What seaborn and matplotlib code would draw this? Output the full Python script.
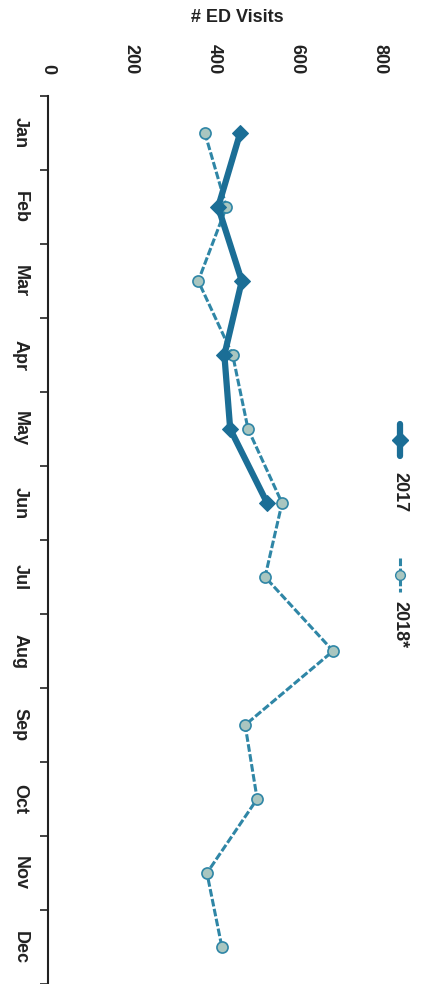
import numpy as np
import pandas as pd
import matplotlib
matplotlib.use("Agg")
import matplotlib.pyplot as plt
from matplotlib.lines import Line2D
import seaborn as sns

months = ["Jan", "Feb", "Mar", "Apr", "May", "Jun", "Jul", "Aug", "Sep", "Oct", "Nov", "Dec"]
visits_2017 = [463, 410, 467, 425, 439, 528]
visits_2018 = [378, 430, 362, 445, 482, 564, 523, 687, 475, 504, 383, 419]
value_ticks = [0, 200, 400, 600, 800]

c17 = "#1b6e96"
c18 = "#2f86a6"

df17 = pd.DataFrame({"month": np.arange(len(visits_2017)), "visits": visits_2017})
df18 = pd.DataFrame({"month": np.arange(len(visits_2018)), "visits": visits_2018})

sns.set_theme(style="white")
plt.rcParams["font.family"] = ["Liberation Sans", "DejaVu Sans"]

fig = plt.figure(figsize=(4.25, 9.84), dpi=100)
ax = fig.add_axes([48 / 425, 0.0, (380 - 48) / 425, 1 - 96 / 984])

# chart is drawn sideways: values run left->right, months top->bottom
sns.lineplot(data=df18, x="visits", y="month", orient="y", ax=ax, color=c18,
             linewidth=2.2, linestyle=(0, (2.5, 0.8)), marker="o", markersize=8,
             markerfacecolor="#a9c6c0", markeredgecolor=c18, markeredgewidth=1.2)
sns.lineplot(data=df17, x="visits", y="month", orient="y", ax=ax, color=c17,
             linewidth=4.5, marker="D", markersize=8,
             markerfacecolor=c17, markeredgecolor=c17)

ax.set_xlim(0, 800)
ax.set_ylim(len(months) - 0.5, -0.5)
ax.xaxis.tick_top()
ax.set_xticks(value_ticks)
ax.set_xticklabels([str(v) for v in value_ticks], rotation=-90, fontsize=13,
                   fontweight="bold", color="#222222")
ax.tick_params(axis="x", length=0, pad=16)
ax.set_yticks(np.arange(len(months)))
ax.set_yticklabels(months, rotation=-90, fontsize=13, fontweight="bold",
                   color="#222222", va="center")
ax.tick_params(axis="y", length=0, pad=14)
ax.set_yticks(np.arange(len(months) + 1) - 0.5, minor=True)
ax.tick_params(axis="y", which="minor", length=6, width=1.2, color="#222222", left=True)
ax.set_xlabel("")
ax.set_ylabel("")
for s in ["top", "right", "bottom"]:
    ax.spines[s].set_visible(False)
ax.spines["left"].set_color("#222222")
ax.spines["left"].set_linewidth(1.5)
ax.grid(False)

fig.text(237 / 425, 1 - 17 / 984, "# ED Visits", ha="center", va="center",
         fontsize=13, fontweight="bold", color="#222222")

# legend, drawn sideways like the rest of the chart
lx = 400 / 425
fig.add_artist(Line2D([lx, lx], [1 - 424 / 984, 1 - 456 / 984], color=c17, linewidth=4.5,
                      transform=fig.transFigure))
fig.add_artist(Line2D([lx], [1 - 440 / 984], color=c17, marker="D", markersize=8,
                      transform=fig.transFigure))
fig.text(lx, 1 - 492 / 984, "2017", rotation=-90, ha="center", va="center",
         fontsize=13, fontweight="bold", color="#222222")
fig.add_artist(Line2D([lx, lx], [1 - 558 / 984, 1 - 592 / 984], color=c18, linewidth=2.2,
                      linestyle=(0, (2.5, 0.8)), transform=fig.transFigure))
fig.add_artist(Line2D([lx], [1 - 575 / 984], color=c18, marker="o", markersize=7,
                      markerfacecolor="#a9c6c0", transform=fig.transFigure))
fig.text(lx, 1 - 625 / 984, "2018*", rotation=-90, ha="center", va="center",
         fontsize=13, fontweight="bold", color="#222222")

fig.savefig("out.png", dpi=100)
